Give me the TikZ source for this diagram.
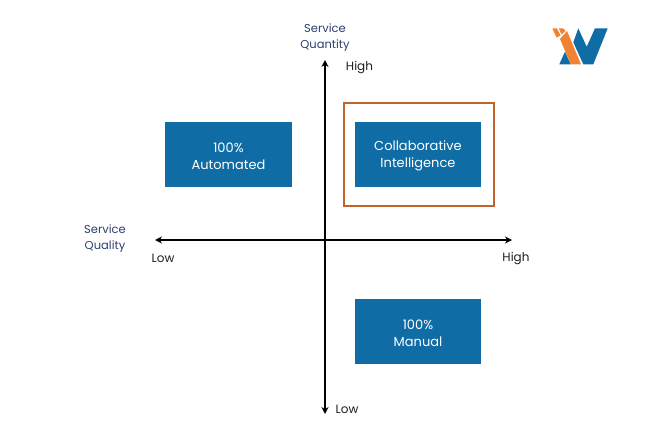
\documentclass[tikz,border=0pt]{standalone}
\usepackage{fontspec}
\setmainfont{Poppins}
\usetikzlibrary{arrows.meta}
\definecolor{boxblue}{HTML}{0F6CA5}
\definecolor{frameorange}{HTML}{C4622B}
\definecolor{logoorange}{HTML}{F08234}
\definecolor{titlenavy}{HTML}{2B4170}
\definecolor{labelink}{HTML}{1E1E1E}
\newcommand{\dropline}{\rule{0pt}{12.5pt}}
\tikzset{
  quadbox/.style={fill=boxblue,text=white,draw=none,align=center,font=\fontsize{13}{17}\selectfont,inner sep=0pt},
  axisline/.style={draw=black,line width=1.4pt,{Stealth[length=7pt,width=7pt]}-{Stealth[length=7pt,width=7pt]}},
  axistitle/.style={text=titlenavy,align=center,font=\fontsize{11.5}{16}\selectfont,inner sep=0pt},
  axislabel/.style={text=labelink,font=\fontsize{12}{14}\selectfont,inner sep=0pt},
  frame/.style={draw=frameorange,line width=2pt,fill=none,inner sep=0pt}
}
\begin{document}
\begin{tikzpicture}[x=1pt,y=-1pt]
\useasboundingbox (0,0) rectangle (660,433);
\fill[white] (0,0) rectangle (660,433);
\node[frame,minimum width=150pt,minimum height=103pt] (focus) at (419,154.5) {};
\node[quadbox,minimum width=127pt,minimum height=65pt] (auto) at (228.5,154.5) {\dropline 100\%\\Automated};
\node[quadbox,minimum width=126pt,minimum height=65pt] (collab) at (418,154.5) {\dropline Collaborative\\Intelligence};
\node[quadbox,minimum width=126pt,minimum height=65pt] (manual) at (418,331.5) {\dropline 100\%\\Manual};
\coordinate (top) at (325,60);
\coordinate (bottom) at (325,414);
\coordinate (left) at (155,240);
\coordinate (right) at (512,240);
\draw[axisline] (top) -- (bottom);
\draw[axisline] (left) -- (right);
\node[axistitle] (quantity) at (325,38) {Service\\Quantity};
\node[axistitle] (quality) at (105,238.5) {Service\\Quality};
\node[axislabel] (hightop) at (359.5,67.5) {High};
\node[axislabel] (lowbottom) at (347,409.5) {Low};
\node[axislabel] (lowleft) at (163,258.5) {Low};
\node[axislabel] (highright) at (516,258.5) {High};
% logo
\fill[boxblue] (578.3,28.5) -- (586.7,46.7) -- (595,28.3) -- (607.7,28.3) -- (593.3,64.3) -- (583.3,64.3) -- (573.3,42.3) -- cycle;
\fill[boxblue] (565,51.7) -- (559.3,64.3) -- (570.7,64.3) -- cycle;
\fill[logoorange] (567,31) -- (581,64.3) -- (570.7,64.3) -- (560,39) -- cycle;
\fill[logoorange] (552.3,28.3) -- (557,28.3) -- (560.5,35.5) -- (556.5,37.5) -- cycle;
\fill[logoorange] (558.7,28.3) -- (563.3,28.3) -- (565.5,31) -- (561.5,34.5) -- cycle;
\end{tikzpicture}
\end{document}
